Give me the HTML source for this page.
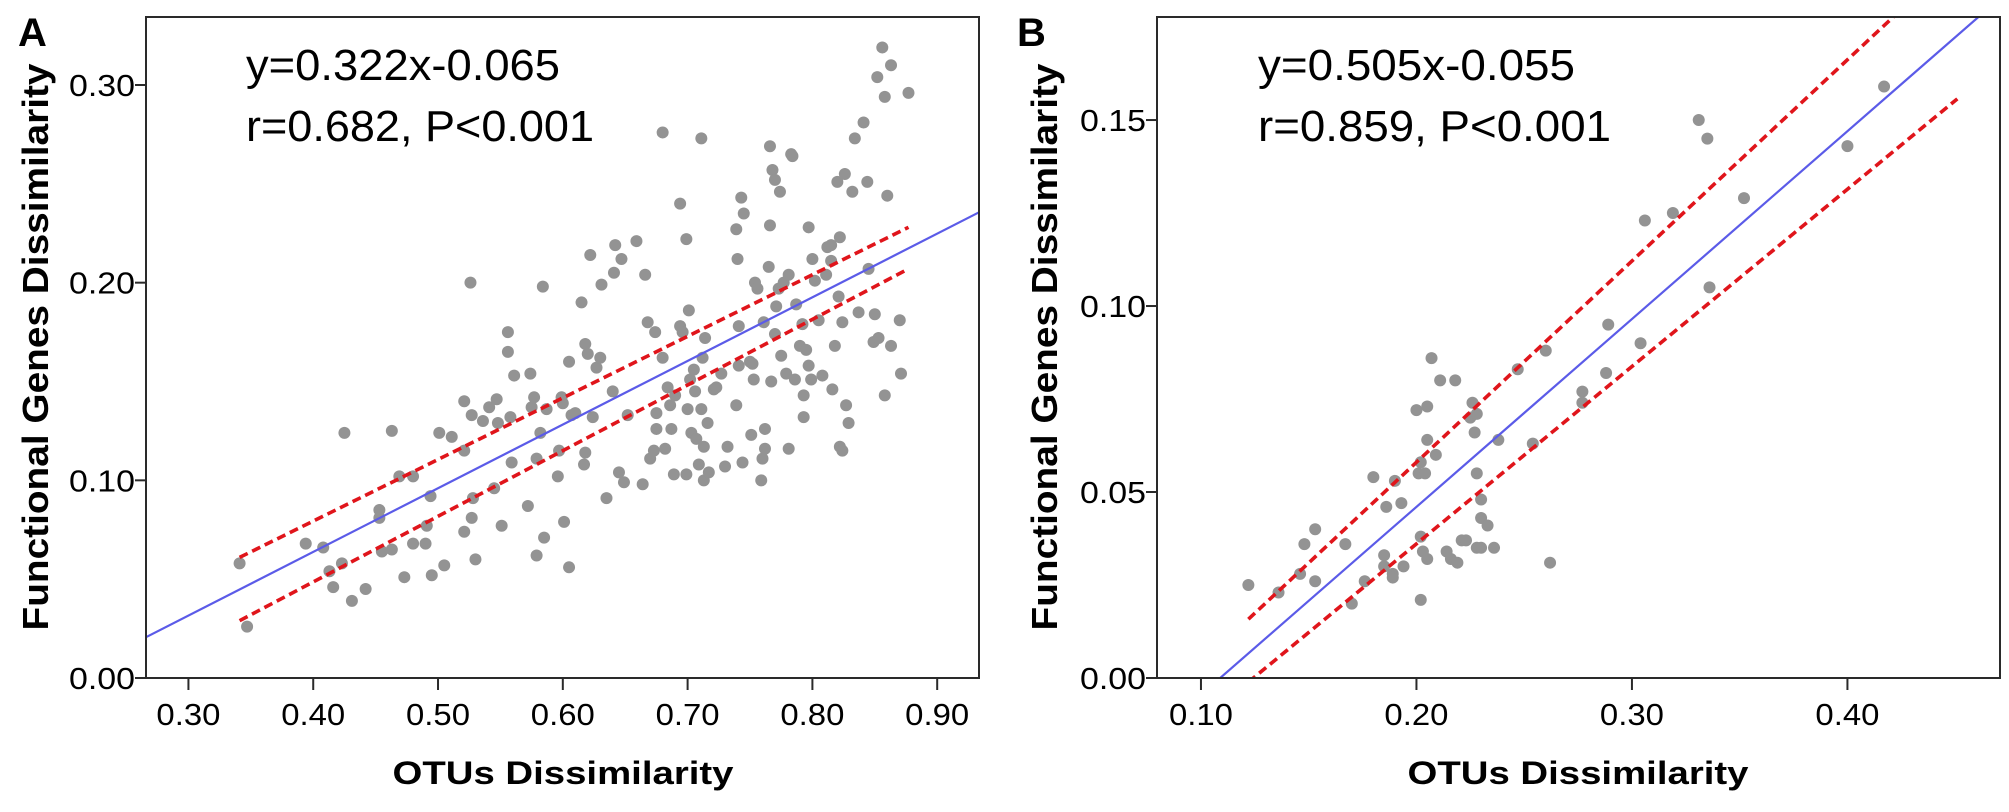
<!DOCTYPE html>
<html><head><meta charset="utf-8">
<style>
html,body{margin:0;padding:0;background:#fff;}
svg{display:block;}
text{font-family:"Liberation Sans",Arial,sans-serif;fill:#000;}
</style></head>
<body>
<svg id="fig" width="2009" height="812" viewBox="0 0 2009 812" xmlns="http://www.w3.org/2000/svg"></svg>
<script>
// ---------- Panel A data ----------
const aX = [0.341,0.347,0.394,0.408,0.413,0.416,0.423,0.425,0.431,0.442,0.453,0.453,0.455,0.463,0.463,0.469,0.473,0.480,0.480,0.490,0.491,0.494,0.495,0.501,0.505,0.511,0.521,0.521,0.521,0.526,0.527,0.528,0.527,0.530,0.536,0.541,0.547,0.545,0.548,0.551,0.556,0.556,0.558,0.559,0.561,0.572,0.574,0.575,0.577,0.579,0.579,0.582,0.584,0.585,0.587,0.596,0.597,0.599,0.600,0.601,0.605,0.605,0.607,0.610,0.615,0.617,0.618,0.618,0.620,0.622,0.624,0.627,0.630,0.631,0.635,0.640,0.641,0.642,0.645,0.647,0.649,0.652,0.659,0.664,0.666,0.668,0.670,0.673,0.674,0.675,0.675,0.680,0.680,0.682,0.684,0.686,0.687,0.689,0.690,0.694,0.694,0.696,0.699,0.699,0.700,0.701,0.702,0.703,0.705,0.706,0.707,0.709,0.711,0.711,0.712,0.713,0.713,0.714,0.716,0.717,0.721,0.723,0.727,0.730,0.732,0.739,0.739,0.740,0.741,0.741,0.743,0.744,0.745,0.750,0.751,0.752,0.753,0.754,0.756,0.759,0.760,0.761,0.762,0.762,0.765,0.766,0.766,0.767,0.768,0.770,0.770,0.771,0.773,0.774,0.775,0.777,0.779,0.781,0.781,0.783,0.784,0.786,0.787,0.790,0.792,0.793,0.793,0.795,0.797,0.797,0.799,0.800,0.802,0.805,0.808,0.811,0.812,0.815,0.815,0.816,0.818,0.820,0.821,0.822,0.822,0.824,0.824,0.826,0.827,0.829,0.832,0.834,0.837,0.841,0.844,0.845,0.849,0.850,0.852,0.853,0.856,0.858,0.858,0.860,0.863,0.863,0.870,0.871,0.877];
const aY = [0.058,0.026,0.068,0.066,0.054,0.046,0.058,0.124,0.039,0.045,0.085,0.081,0.064,0.125,0.065,0.102,0.051,0.102,0.068,0.068,0.077,0.092,0.052,0.124,0.057,0.122,0.140,0.115,0.074,0.200,0.133,0.091,0.081,0.060,0.130,0.137,0.141,0.096,0.129,0.077,0.175,0.165,0.132,0.109,0.153,0.087,0.154,0.137,0.142,0.111,0.062,0.124,0.198,0.071,0.136,0.102,0.115,0.142,0.139,0.079,0.160,0.056,0.133,0.134,0.190,0.108,0.114,0.169,0.164,0.214,0.132,0.157,0.162,0.199,0.091,0.145,0.205,0.219,0.104,0.212,0.099,0.133,0.221,0.098,0.204,0.180,0.111,0.115,0.175,0.126,0.134,0.276,0.162,0.116,0.147,0.138,0.126,0.103,0.143,0.240,0.178,0.175,0.222,0.103,0.136,0.186,0.151,0.124,0.156,0.145,0.121,0.108,0.273,0.136,0.162,0.117,0.100,0.172,0.129,0.104,0.146,0.147,0.154,0.107,0.117,0.138,0.227,0.212,0.178,0.158,0.243,0.109,0.235,0.160,0.123,0.159,0.151,0.200,0.197,0.100,0.111,0.180,0.126,0.116,0.208,0.269,0.229,0.150,0.257,0.252,0.174,0.188,0.197,0.246,0.163,0.200,0.154,0.204,0.116,0.265,0.264,0.151,0.189,0.168,0.179,0.143,0.132,0.166,0.228,0.158,0.151,0.212,0.201,0.181,0.153,0.204,0.218,0.211,0.219,0.146,0.168,0.251,0.193,0.223,0.117,0.180,0.115,0.255,0.138,0.129,0.246,0.273,0.185,0.281,0.251,0.207,0.170,0.184,0.304,0.172,0.319,0.294,0.143,0.244,0.310,0.168,0.181,0.154,0.296];
const aFit = [0.322, -0.065];
const aCiX = [0.341, 0.877];
const aCiUpper = [0.061, 0.228];
const aCiLower = [0.029, 0.207];
const aXTicks = [0.30,0.40,0.50,0.60,0.70,0.80,0.90];
const aYTicks = [0.00,0.10,0.20,0.30];

// ---------- Panel B data ----------
const bX = [0.122,0.136,0.146,0.148,0.153,0.153,0.167,0.170,0.176,0.180,0.185,0.185,0.186,0.189,0.189,0.190,0.193,0.194,0.200,0.201,0.202,0.202,0.202,0.203,0.204,0.205,0.205,0.205,0.207,0.209,0.211,0.214,0.216,0.218,0.219,0.221,0.223,0.225,0.226,0.227,0.228,0.228,0.228,0.230,0.230,0.230,0.233,0.236,0.238,0.247,0.254,0.260,0.262,0.277,0.277,0.288,0.289,0.304,0.306,0.319,0.331,0.335,0.336,0.352,0.400,0.417];
const bY = [0.025,0.023,0.028,0.036,0.040,0.026,0.036,0.020,0.026,0.054,0.033,0.030,0.046,0.028,0.027,0.053,0.047,0.030,0.072,0.055,0.058,0.021,0.038,0.034,0.055,0.073,0.064,0.032,0.086,0.060,0.080,0.034,0.032,0.080,0.031,0.037,0.037,0.070,0.074,0.066,0.055,0.071,0.035,0.048,0.043,0.035,0.041,0.035,0.064,0.083,0.063,0.088,0.031,0.077,0.074,0.082,0.095,0.090,0.123,0.125,0.150,0.145,0.105,0.129,0.143,0.159];
const bFit = [0.505, -0.055];
const bCiX = [0.122, 0.451];
const bCiUpper = [0.0158, 0.1938];
const bCiLower = [-0.0011, 0.1557];
const bXTicks = [0.10,0.20,0.30,0.40];
const bYTicks = [0.00,0.05,0.10,0.15];

const NS = "http://www.w3.org/2000/svg";
const svg = document.getElementById('fig');
function mk(tag, attrs, parent){
  const e = document.createElementNS(NS, tag);
  for (const k in attrs) e.setAttribute(k, attrs[k]);
  (parent||svg).appendChild(e);
  return e;
}

function panel(cfg){
  const g = mk('g', {});
  
  
  const sx = v => cfg.left + (v - cfg.xmin) / (cfg.xmax - cfg.xmin) * (cfg.right - cfg.left);
  const sy = v => cfg.bottom - (v - cfg.ymin) / (cfg.ymax - cfg.ymin) * (cfg.bottom - cfg.top);
  const clipId = cfg.name + '-clip';
  const cp = mk('clipPath', {id: clipId}, g);
  mk('rect', {x: cfg.left, y: cfg.top, width: cfg.right - cfg.left, height: cfg.bottom - cfg.top}, cp);
  const plot = mk('g', {'clip-path': 'url(#' + clipId + ')'}, g);

  for (let i = 0; i < cfg.xs.length; i++) {
    const c = mk('circle', {cx: sx(cfg.xs[i]), cy: sy(cfg.ys[i]), r: 6, fill: '#939393'}, plot);
    
    
  }
  const x0 = cfg.xmin, x1 = cfg.xmax;
  const fl = mk('line', {x1: sx(x0), y1: sy(cfg.fit[0]*x0 + cfg.fit[1]), x2: sx(x1), y2: sy(cfg.fit[0]*x1 + cfg.fit[1]), stroke: '#5b5be8', 'stroke-width': 2.2}, plot);
  
  
  const cu = mk('line', {x1: sx(cfg.ciX[0]), y1: sy(cfg.ciU[0]), x2: sx(cfg.ciX[1]), y2: sy(cfg.ciU[1]), stroke: '#e0151b', 'stroke-width': 3.6, 'stroke-dasharray': '9,5'}, plot);
  
  
  const cl = mk('line', {x1: sx(cfg.ciX[0]), y1: sy(cfg.ciL[0]), x2: sx(cfg.ciX[1]), y2: sy(cfg.ciL[1]), stroke: '#e0151b', 'stroke-width': 3.6, 'stroke-dasharray': '9,5'}, plot);
  
  

  const fr = mk('rect', {x: cfg.left, y: cfg.top, width: cfg.right - cfg.left, height: cfg.bottom - cfg.top, fill: 'none', stroke: '#2a2a2a', 'stroke-width': 2}, g);
  
  

  cfg.xt.forEach(v => {
    const X = sx(v);
    const t = mk('line', {x1: X, y1: cfg.bottom, x2: X, y2: cfg.bottom + 12, stroke: '#2a2a2a', 'stroke-width': 2}, g);
    
    
    const l = mk('text', {x: X, y: cfg.bottom + 47, 'text-anchor': 'middle', 'font-size': 31, textLength: 64, lengthAdjust: 'spacingAndGlyphs'}, g);
    l.textContent = v.toFixed(2);
    
    
  });
  cfg.yt.forEach(v => {
    const Y = sy(v);
    const t = mk('line', {x1: cfg.left - 11, y1: Y, x2: cfg.left, y2: Y, stroke: '#2a2a2a', 'stroke-width': 2}, g);
    
    
    const l = mk('text', {x: cfg.left - 11, y: Y + 11, 'text-anchor': 'end', 'font-size': 31, textLength: 66, lengthAdjust: 'spacingAndGlyphs'}, g);
    l.textContent = v.toFixed(2);
    
    
  });

  const xt = mk('text', {x: cfg.xTitleX, y: 784, 'text-anchor': 'middle', 'font-size': 32, 'font-weight': 'bold', textLength: 341, lengthAdjust: 'spacingAndGlyphs'}, g);
  xt.textContent = 'OTUs Dissimilarity';
  
  
  const yt = mk('text', {x: 0, y: 0, 'text-anchor': 'middle', 'font-size': 36, 'font-weight': 'bold', textLength: 567, lengthAdjust: 'spacingAndGlyphs', transform: 'translate(' + cfg.yTitleX + ',347) rotate(-90)'}, g);
  yt.textContent = 'Functional Genes Dissimilarity';
  
  

  const e1 = mk('text', {x: cfg.eqX, y: 80, 'font-size': 44, textLength: cfg.eq1W, lengthAdjust: 'spacingAndGlyphs'}, g);
  e1.textContent = cfg.eq1;
  
  
  const e2 = mk('text', {x: cfg.eqX, y: 141, 'font-size': 44, textLength: cfg.eq2W, lengthAdjust: 'spacingAndGlyphs'}, g);
  e2.textContent = cfg.eq2;
  
  

  const pl = mk('text', {x: cfg.letterX, y: 46, 'font-size': 40, 'font-weight': 'bold'}, g);
  pl.textContent = cfg.letter;
  
  
}

panel({name:'panel-a', left:146, right:979, top:17, bottom:678,
  xmin:0.266, xmax:0.9335, ymin:0, ymax:0.3344,
  xs:aX, ys:aY, fit:aFit, ciX:aCiX, ciU:aCiUpper, ciL:aCiLower,
  xt:aXTicks, yt:aYTicks, xTitleX:563, yTitleX:48,
  eqX:246, eq1:'y=0.322x-0.065', eq1W:314, eq2:'r=0.682, P<0.001', eq2W:348,
  letter:'A', letterX:18});

panel({name:'panel-b', left:1157, right:2000, top:17, bottom:678,
  xmin:0.0796, xmax:0.4708, ymin:0, ymax:0.1777,
  xs:bX, ys:bY, fit:bFit, ciX:bCiX, ciU:bCiUpper, ciL:bCiLower,
  xt:bXTicks, yt:bYTicks, xTitleX:1578, yTitleX:1057,
  eqX:1258, eq1:'y=0.505x-0.055', eq1W:317, eq2:'r=0.859, P<0.001', eq2W:353,
  letter:'B', letterX:1017});
</script>
</body></html>
